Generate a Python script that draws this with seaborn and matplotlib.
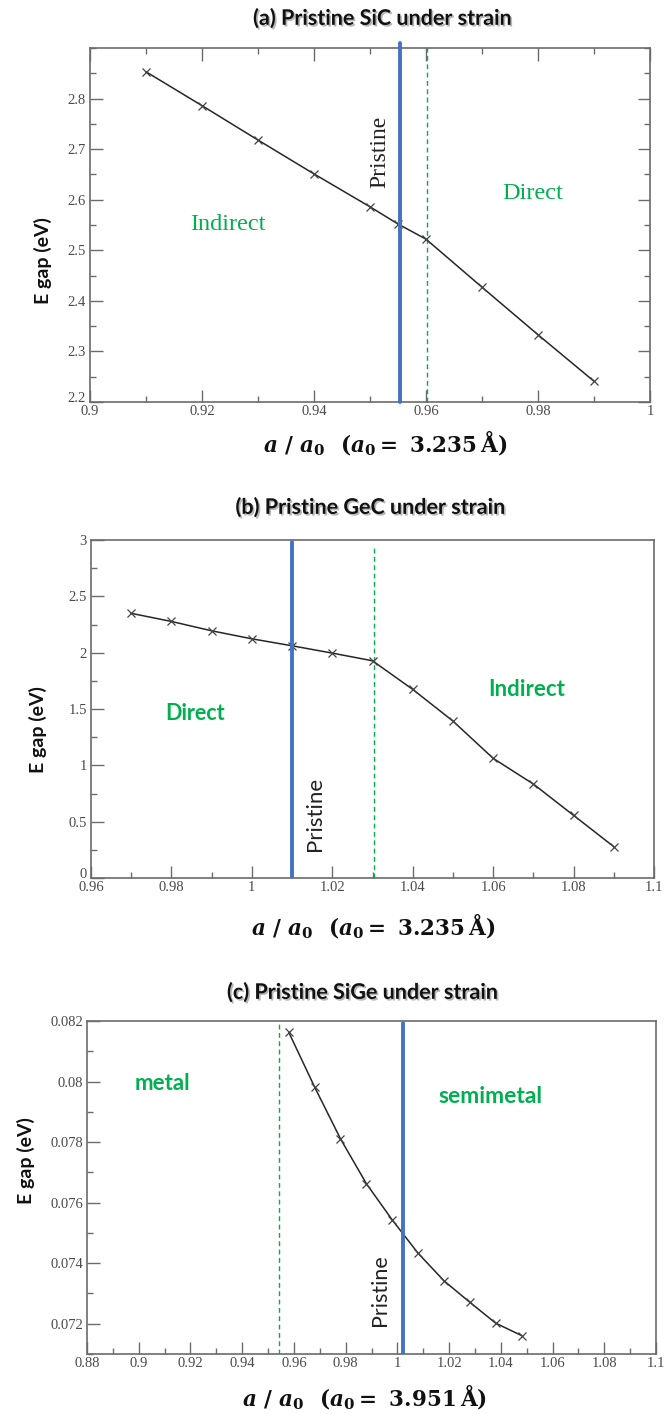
import numpy as np
import pandas as pd
import matplotlib
matplotlib.use("Agg")
import matplotlib.pyplot as plt
import matplotlib.patheffects as pe
import matplotlib.transforms as mtransforms
from matplotlib.ticker import FixedLocator, MultipleLocator, FuncFormatter
import seaborn as sns

# ---------------- data ----------------
sic_strain = [0.91, 0.92, 0.93, 0.94, 0.95, 0.955, 0.96, 0.97, 0.98, 0.99]
sic_gap = [2.853, 2.786, 2.718, 2.651, 2.586, 2.552, 2.522, 2.427, 2.333, 2.241]
sic_pristine = 0.9553
sic_transition = 0.9601

gec_strain = [0.97, 0.98, 0.99, 1.00, 1.01, 1.02, 1.03, 1.04, 1.05, 1.06, 1.07, 1.08, 1.09]
gec_gap = [2.349, 2.277, 2.194, 2.123, 2.061, 1.996, 1.928, 1.674, 1.393, 1.062, 0.834, 0.556, 0.278]
gec_pristine = 1.010
gec_transition = 1.0304

sige_strain = [0.958, 0.968, 0.978, 0.988, 0.998, 1.008, 1.018, 1.028, 1.038, 1.048]
sige_gap = [0.08163, 0.07982, 0.07811, 0.07663, 0.07543, 0.07433, 0.07342, 0.07271, 0.07202, 0.07161]
sige_pristine = 1.002
sige_transition = 0.9543

titles = ["(a) Pristine SiC under strain", "(b) Pristine GeC under strain", "(c) Pristine SiGe under strain"]
a0_values = ["3.235", "3.235", "3.951"]
ylabel_text = "E gap (eV)"

sic_yticks = [2.2, 2.3, 2.4, 2.5, 2.6, 2.7, 2.8]
gec_yticks = [0, 0.5, 1, 1.5, 2, 2.5, 3]
sige_yticks = [0.072, 0.074, 0.076, 0.078, 0.08, 0.082]

# ---------------- style ----------------
sns.set_theme(style="ticks")
plt.rcParams["font.family"] = ["Lato", "DejaVu Sans"]
plt.rcParams["mathtext.fontset"] = "custom"
plt.rcParams["mathtext.it"] = "DejaVu Serif:italic:bold"
plt.rcParams["mathtext.rm"] = "DejaVu Serif:bold"
plt.rcParams["mathtext.bf"] = "DejaVu Serif:bold"

GREEN = "#00B050"
BLUE = "#4472C4"
SPINE = "#6b6b6b"
TICKC = "#4a4a4a"

W, H = 666, 1414
fig = plt.figure(figsize=(W / 100, H / 100), dpi=100)
fig.patch.set_facecolor("white")


def px_axes(l, r, t, b):
    return fig.add_axes([l / W, 1 - b / H, (r - l) / W, (b - t) / H])


fmt = FuncFormatter(lambda v, p: "%g" % round(v, 6))


def style_axes(ax, mirror):
    for s in ax.spines.values():
        s.set_color(SPINE)
        s.set_linewidth(1.2)
        s.set_visible(True)
    ax.tick_params(which="both", direction="in", colors=SPINE, labelcolor=TICKC,
                   top=mirror, right=mirror, labelsize=10.5, width=1.0)
    ax.tick_params(which="major", length=9)
    ax.tick_params(which="minor", length=4.5)
    ax.tick_params(axis="x", pad=2)
    ax.tick_params(axis="y", pad=3)
    for lab in ax.get_xticklabels() + ax.get_yticklabels():
        lab.set_fontfamily("Liberation Serif")
    ax.xaxis.set_major_formatter(fmt)
    ax.yaxis.set_major_formatter(fmt)
    ax.set_xlabel("")
    ax.set_ylabel("")


def nudge_first_ylabel(ax, dy_px):
    # lift the lowest y tick label a little so it does not sit on the x label
    off = mtransforms.ScaledTranslation(0, dy_px / 100, fig.dpi_scale_trans)
    lab = ax.yaxis.get_major_ticks()[0].label1
    lab.set_transform(lab.get_transform() + off)


def draw_curve(ax, x, y):
    df = pd.DataFrame({"x": x, "y": y})
    sns.lineplot(data=df, x="x", y="y", ax=ax, color="#262626", lw=1.1,
                 marker="x", markersize=6, markeredgecolor="#444444",
                 markeredgewidth=0.9, sort=False, zorder=3)


def fig_title(text, xc, yc):
    fig.text(xc / W, 1 - yc / H, text, ha="center", va="center",
             fontsize=15.5, fontweight="bold", family=["Lato", "DejaVu Sans"],
             color="#111111",
             path_effects=[pe.withSimplePatchShadow(offset=(1.2, -1.2), shadow_rgbFace="#888888", alpha=0.6)])


def fig_xlabel(a0, xc, yc):
    fig.text(xc / W, 1 - yc / H, r"$a\ /\ a_0\ \ (a_0 =\ %s\,\mathrm{\AA})$" % a0,
             ha="center", va="center", fontsize=15.5, color="#111111")


def set_ylab(ax, xright, frac, l, r):
    ax.set_ylabel(ylabel_text, fontsize=14, fontweight="bold", color="#111111")
    ax.yaxis.set_label_coords(-(l - xright) / (r - l), frac)


# ---------------- panel (a) ----------------
la, ra, ta, ba = 90, 650, 48, 402
ax1 = px_axes(la, ra, ta, ba)
draw_curve(ax1, sic_strain, sic_gap)
ax1.axvline(sic_pristine, ymin=0, ymax=1.014, color=BLUE, lw=2.8, clip_on=False, zorder=4)
ax1.axvline(sic_transition, ymin=0, ymax=1.008, color=GREEN, lw=1.0, ls=(0, (3.5, 2.5)), clip_on=False, zorder=2)
ax1.set_xlim(0.9, 1.0)
ax1.set_ylim(2.2, 2.9)
ax1.xaxis.set_major_locator(MultipleLocator(0.02))
ax1.xaxis.set_minor_locator(MultipleLocator(0.01))
ax1.yaxis.set_major_locator(FixedLocator(sic_yticks))
ax1.yaxis.set_minor_locator(MultipleLocator(0.05))
style_axes(ax1, True)
ax1.text(0.9518, 2.695, "Pristine", rotation=90, ha="center", va="center",
         fontsize=17, family="Liberation Serif", color="#222222")
ax1.text(0.9246, 2.55, "Indirect", ha="center", va="center", fontsize=17.5,
         family="Liberation Serif", color=GREEN)
ax1.text(0.979, 2.612, "Direct", ha="center", va="center", fontsize=17.5,
         family="Liberation Serif", color=GREEN)
set_ylab(ax1, 52, 0.40, la, ra)
fig_title(titles[0], 382, 18)
fig_xlabel(a0_values[0], 385, 443)

# ---------------- panel (b) ----------------
lb, rb, tb, bb = 91, 654, 540, 878
ax2 = px_axes(lb, rb, tb, bb)
draw_curve(ax2, gec_strain, gec_gap)
ax2.axvline(gec_pristine, ymin=0, ymax=0.995, color=BLUE, lw=2.8, zorder=4)
ax2.axvline(gec_transition, ymin=0, ymax=0.98, color=GREEN, lw=1.0, ls=(0, (3.5, 2.5)), zorder=2)
ax2.set_xlim(0.96, 1.1)
ax2.set_ylim(0, 3)
ax2.xaxis.set_major_locator(MultipleLocator(0.02))
ax2.xaxis.set_minor_locator(MultipleLocator(0.01))
ax2.yaxis.set_major_locator(FixedLocator(gec_yticks))
ax2.yaxis.set_minor_locator(MultipleLocator(0.25))
style_axes(ax2, False)
ax2.text(1.0157, 0.57, "Pristine", rotation=90, ha="center", va="center",
         fontsize=16, color="#222222")
ax2.text(0.986, 1.46, "Direct", ha="center", va="center", fontsize=15.5,
         fontweight="bold", color=GREEN)
ax2.text(1.0683, 1.67, "Indirect", ha="center", va="center", fontsize=16,
         fontweight="bold", color=GREEN)
set_ylab(ax2, 47, 0.44, lb, rb)
fig_title(titles[1], 370, 507)
fig_xlabel(a0_values[1], 373, 926)

# ---------------- panel (c) ----------------
lc, rc, tc, bc = 87, 656, 1021, 1354
ax3 = px_axes(lc, rc, tc, bc)
draw_curve(ax3, sige_strain, sige_gap)
ax3.axvline(sige_pristine, ymin=0, ymax=0.994, color=BLUE, lw=2.8, zorder=4)
ax3.axvline(sige_transition, ymin=0, ymax=1.0, color=GREEN, lw=1.0, ls=(0, (3.5, 2.5)), zorder=2)
ax3.set_xlim(0.88, 1.1)
ax3.set_ylim(0.071, 0.082)
ax3.xaxis.set_major_locator(MultipleLocator(0.02))
ax3.xaxis.set_minor_locator(MultipleLocator(0.01))
ax3.yaxis.set_major_locator(FixedLocator(sige_yticks))
ax3.yaxis.set_minor_locator(MultipleLocator(0.001))
style_axes(ax3, False)
ax3.text(0.9934, 0.0731, "Pristine", rotation=90, ha="center", va="center",
         fontsize=15.5, color="#222222")
ax3.text(0.9093, 0.07995, "metal", ha="center", va="center", fontsize=16,
         fontweight="bold", color=GREEN)
ax3.text(1.0359, 0.0795, "semimetal", ha="center", va="center", fontsize=16.5,
         fontweight="bold", color=GREEN)
set_ylab(ax3, 35, 0.58, lc, rc)
fig_title(titles[2], 362, 992)
fig_xlabel(a0_values[2], 364, 1397)

fig.canvas.draw()
nudge_first_ylabel(ax1, 5)
nudge_first_ylabel(ax2, 5)

fig.savefig("out.png", dpi=100, facecolor="white")
